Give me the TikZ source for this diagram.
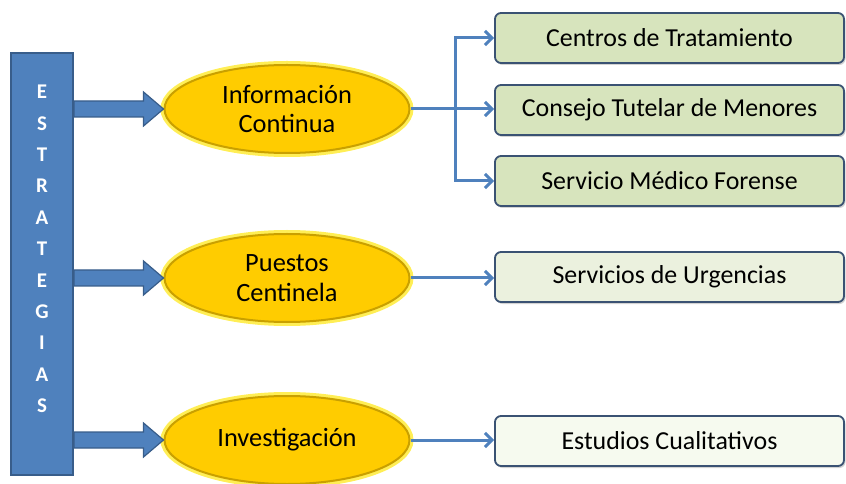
\documentclass[tikz,border=0pt]{standalone}
\usepackage{fontspec}
\setmainfont{Carlito}
\usetikzlibrary{arrows.meta,calc,shadows,shapes.geometric}
\definecolor{barblue}{HTML}{4F81BD}
\definecolor{bardark}{HTML}{385D8A}
\definecolor{gold}{HTML}{FFCC00}
\definecolor{golddark}{HTML}{C9A000}
\definecolor{glow}{HTML}{FFEE55}
\definecolor{boxgreen}{HTML}{D7E4BD}
\definecolor{boxlight}{HTML}{EBF1DE}
\definecolor{boxpale}{HTML}{F6FAEF}
\definecolor{boxedge}{HTML}{3A5273}
\definecolor{connblue}{HTML}{4F81BD}
\begin{document}
\begin{tikzpicture}[x=1bp,y=-1bp,
  stratbar/.style={draw=bardark, line width=2bp, fill=barblue, minimum width=62bp, minimum height=422bp, inner sep=0pt},
  goal/.style={ellipse, draw=golddark, line width=2bp, fill=gold, minimum width=245bp, minimum height=88bp, inner sep=0pt, align=center, font=\fontsize{26.5}{30}\selectfont, preaction={draw=glow, line width=8bp}},
  target/.style={rounded corners=6bp, draw=boxedge, line width=1.8bp, minimum width=349bp, minimum height=50bp, inner sep=0pt, font=\fontsize{26}{30}\selectfont, drop shadow={shadow xshift=1.5bp, shadow yshift=-2bp, opacity=.35}},
  blockarrow/.style={draw=bardark, line width=1.2bp, fill=barblue},
  link/.style={draw=connblue, line width=3bp},
  linkarrow/.style={link, -{Straight Barb[length=7bp,width=14bp]}}
]
\useasboundingbox (0,0) rectangle (846,484);
% left bar
\node[stratbar] (bar) at (42,264) {};
\node[font=\bfseries\fontsize{21}{31.5}\selectfont, text=white, align=center] (letters) at (42,249) {E\\S\\T\\R\\A\\T\\E\\G\\I\\A\\S};
% ellipses
\node[goal] (e1) at (287,109) {Información\\Continua};
\node[goal] (e2) at (287,278) {Puestos\\Centinela};
\node[goal] (e3) at (287,440) {Investigación};
% boxes
\node[target, fill=boxgreen] (b1) at (669.5,38) {Centros de Tratamiento};
\node[target, fill=boxgreen] (b2) at (669.5,110) {Consejo Tutelar de Menores};
\node[target, fill=boxgreen] (b3) at (669.5,181) {Servicio Médico Forense};
\node[target, fill=boxlight] (b4) at (669.5,277) {Servicios de Urgencias};
\node[target, fill=boxpale] (b5) at (669.5,441) {Estudios Cualitativos};
% block arrows
\foreach \e in {e1,e2,e3}{
  \draw[blockarrow] ($(bar.east |- \e.west)+(0,-8)$) -- ($(\e.west)+(-20,-8)$) -- ($(\e.west)+(-20,-17)$) -- (\e.west) -- ($(\e.west)+(-20,17)$) -- ($(\e.west)+(-20,8)$) -- ($(bar.east |- \e.west)+(0,8)$) -- cycle;
}
% connectors
\coordinate (j) at ($(e1.east)+(45,0)$);
\draw[link] (e1.east) -- (j);
\draw[linkarrow] (j) |- (b1.west);
\draw[linkarrow] (j) |- (b3.west);
\draw[linkarrow] (j) -- (j -| b2.west);
\draw[linkarrow] (e2.east) -- (e2.east -| b4.west);
\draw[linkarrow] (e3.east) -- (e3.east -| b5.west);
\end{tikzpicture}
\end{document}
